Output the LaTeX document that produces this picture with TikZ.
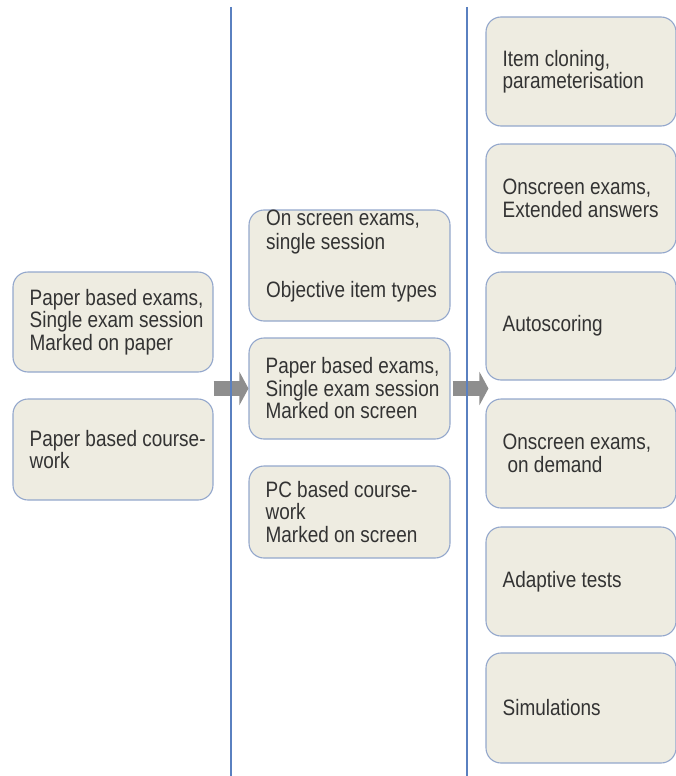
\documentclass[tikz,border=0pt]{standalone}
\usepackage{fontspec}
\newfontfamily\boxfont{Liberation Sans}[FakeStretch=0.85]
\usetikzlibrary{arrows.meta,calc}
\definecolor{boxfill}{HTML}{EEECE1}
\definecolor{boxborder}{HTML}{93A7CC}
\definecolor{divcol}{HTML}{5A80C0}
\definecolor{arrowgray}{HTML}{8E8E8E}
\definecolor{textcol}{HTML}{333333}
\tikzset{
  box/.style={draw=boxborder, fill=boxfill, rounded corners=15pt, line width=1.1pt, inner sep=0pt},
  txt/.style={anchor=west, align=left, inner sep=0pt, text=textcol,
    font=\boxfont\fontsize{22.3}{22.5}\selectfont},
  divider/.style={draw=divcol, line width=2pt},
  bigarrow/.style={draw=arrowgray, line width=15pt, -{Triangle[length=9pt,width=33pt]}}
}
\begin{document}
\begin{tikzpicture}[x=1pt,y=-1pt]
\useasboundingbox (0,0) rectangle (675,776);
% left column
\node[box, minimum width=200pt, minimum height=100pt] (L1) at (113,322) {};
\node[box, minimum width=200pt, minimum height=101pt] (L2) at (113,449.5) {};
% middle column
\node[box, minimum width=201pt, minimum height=111pt] (MA) at (349.5,265.5) {};
\node[box, minimum width=201pt, minimum height=101pt] (MB) at (349.5,388.5) {};
\node[box, minimum width=201pt, minimum height=92pt] (MC) at (349.5,512) {};
% right column
\node[box, minimum width=190pt, minimum height=109pt] (R1) at (581,71.5) {};
\node[box, minimum width=190pt, minimum height=109pt] (R2) at (581,198.5) {};
\node[box, minimum width=190pt, minimum height=108pt] (R3) at (581,326) {};
\node[box, minimum width=190pt, minimum height=109pt] (R4) at (581,453.5) {};
\node[box, minimum width=190pt, minimum height=109pt] (R5) at (581,581.5) {};
\node[box, minimum width=190pt, minimum height=110pt] (R6) at (581,708) {};
% texts
\node[txt] (tL1) at ([xshift=17pt]L1.west) {Paper based exams,\\Single exam session\\Marked on paper};
\node[txt] (tL2) at ([xshift=17pt]L2.west) {Paper based course-\\work};
\node[txt, font=\boxfont\fontsize{22.3}{23.8}\selectfont] (tMA) at (266,256) {On screen exams,\\single session\\[23.8pt]Objective item types};
\node[txt] (tMB) at ([xshift=17pt]MB.west) {Paper based exams,\\Single exam session\\Marked on screen};
\node[txt] (tMC) at ([xshift=17pt]MC.west) {PC based course-\\work\\Marked on screen};
\node[txt] (tR1) at ([xshift=17pt]R1.west) {Item cloning,\\parameterisation};
\node[txt] (tR2) at ([xshift=17pt]R2.west) {Onscreen exams,\\Extended answers};
\node[txt] (tR3) at ([xshift=17pt]R3.west) {Autoscoring};
\node[txt] (tR4) at ([xshift=17pt]R4.west) {Onscreen exams,\\\hspace*{5pt}on demand};
\node[txt] (tR5) at ([xshift=17pt]R5.west) {Adaptive tests};
\node[txt] (tR6) at ([xshift=17pt]R6.west) {Simulations};
% arrows
\draw[bigarrow] (MB.west -| L1.east) -- (MB.west);
\draw[bigarrow] ($(MB.east)+(2,0)$) -- ($(MB.east -| R3.west)+(3,0)$);
% dividers
\coordinate (d1t) at (231,7);
\coordinate (d1b) at (231,780);
\coordinate (d2t) at (467,7);
\coordinate (d2b) at (467,780);
\draw[divider] (d1t) -- (d1b);
\draw[divider] (d2t) -- (d2b);
\end{tikzpicture}
\end{document}
